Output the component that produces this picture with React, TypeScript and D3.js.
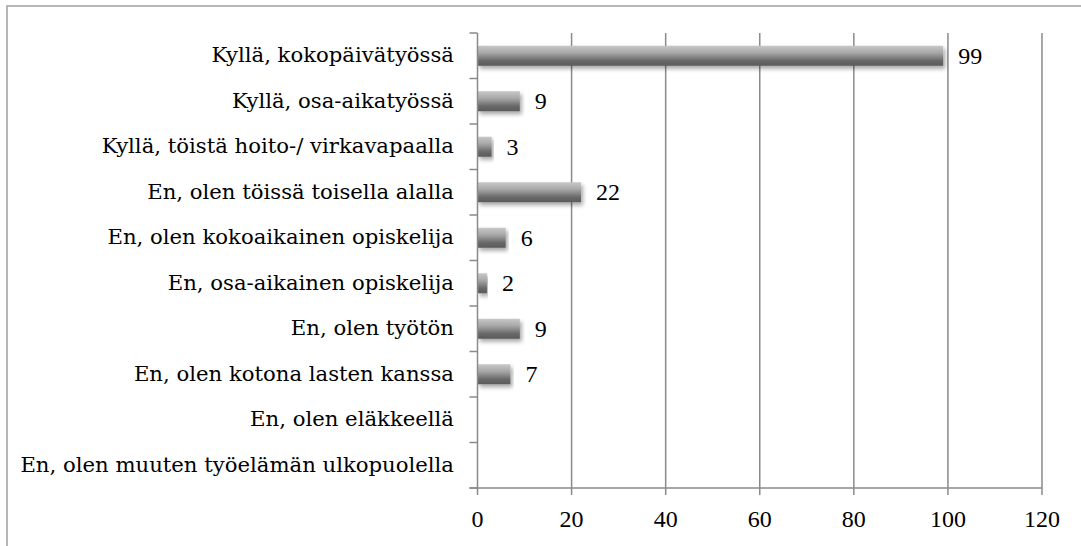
import React from "react";
import * as d3 from "d3";

const categories = [
  "Kyllä, kokopäivätyössä",
  "Kyllä, osa-aikatyössä",
  "Kyllä, töistä hoito-/ virkavapaalla",
  "En, olen töissä toisella alalla",
  "En, olen kokoaikainen opiskelija",
  "En, osa-aikainen opiskelija",
  "En, olen työtön",
  "En, olen kotona lasten kanssa",
  "En, olen eläkkeellä",
  "En, olen muuten työelämän ulkopuolella",
];
const values = [99, 9, 3, 22, 6, 2, 9, 7, 0, 0];
const xTicks = [0, 20, 40, 60, 80, 100, 120];

const W = 1081;
const H = 546;
const left = 477.5;
const right = 1042;
const top = 33;
const bottom = 488;

export default function App() {
  const x = d3.scaleLinear().domain([0, 120]).range([left, right]);
  const y = d3.scaleBand<string>().domain(categories).range([top, bottom]).paddingInner(0).paddingOuter(0);
  const bw = y.bandwidth();
  const barH = bw * 0.44;
  const axisColor = "#8a8a8a";
  const labelFont = "'DejaVu Serif', serif";
  const numFont = "'Liberation Serif', serif";
  const boundaries = d3.range(categories.length + 1).map((i) => top + i * bw);

  return (
    <svg width={W} height={H} style={{ position: "absolute", left: 0, top: 0, background: "#fff" }}>
      <defs>
        <linearGradient id="barGrad" x1="0" y1="0" x2="0" y2="1">
          <stop offset="0%" stopColor="#c8c8c8" />
          <stop offset="35%" stopColor="#a8a8a8" />
          <stop offset="75%" stopColor="#686868" />
          <stop offset="100%" stopColor="#5a5a5a" />
        </linearGradient>
        <filter id="shadow" x="-5%" y="-30%" width="115%" height="190%">
          <feGaussianBlur in="SourceAlpha" stdDeviation="2" />
          <feOffset dx="2" dy="3" result="ob" />
          <feComponentTransfer>
            <feFuncA type="linear" slope="0.35" />
          </feComponentTransfer>
          <feMerge>
            <feMergeNode />
            <feMergeNode in="SourceGraphic" />
          </feMerge>
        </filter>
      </defs>
      <rect x={7} y={6} width={1200} height={700} fill="none" stroke="#a0a0a0" strokeWidth={1.5} />

      {/* gridlines */}
      {xTicks.slice(1).map((t) => (
        <line key={"g" + t} x1={x(t)} x2={x(t)} y1={top} y2={bottom + 7} stroke={axisColor} strokeWidth={1.5} />
      ))}

      {/* bars */}
      {categories.map((c, i) =>
        values[i] > 0 ? (
          <rect
            key={"b" + i}
            x={x(0)}
            y={(y(c) as number) + (bw - barH) / 2}
            width={x(values[i]) - x(0)}
            height={barH}
            fill="url(#barGrad)"
            filter="url(#shadow)"
          />
        ) : null
      )}

      {/* y axis */}
      <line x1={left} x2={left} y1={top} y2={bottom + 7} stroke={axisColor} strokeWidth={1.5} />
      {boundaries.map((b, i) => (
        <line key={"yt" + i} x1={left - 8} x2={left} y1={b} y2={b} stroke={axisColor} strokeWidth={1.5} />
      ))}
      {/* x axis */}
      <line x1={left - 8} x2={right} y1={bottom} y2={bottom} stroke={axisColor} strokeWidth={1.5} />

      {/* category labels */}
      {categories.map((c) => (
        <text
          key={"l" + c}
          x={454}
          y={(y(c) as number) + bw / 2 + 6.5}
          textAnchor="end"
          fontFamily={labelFont}
          fontSize={21.2}
          fill="#000"
        >
          {c}
        </text>
      ))}

      {/* value labels */}
      {categories.map((c, i) =>
        values[i] > 0 ? (
          <text
            key={"v" + i}
            x={x(values[i]) + 15}
            y={(y(c) as number) + bw / 2 + 8}
            fontFamily={numFont}
            fontSize={24}
            fill="#000"
          >
            {values[i]}
          </text>
        ) : null
      )}

      {/* x tick labels */}
      {xTicks.map((t) => (
        <text key={"xt" + t} x={x(t)} y={527} textAnchor="middle" fontFamily={numFont} fontSize={24} fill="#000">
          {t}
        </text>
      ))}
    </svg>
  );
}
